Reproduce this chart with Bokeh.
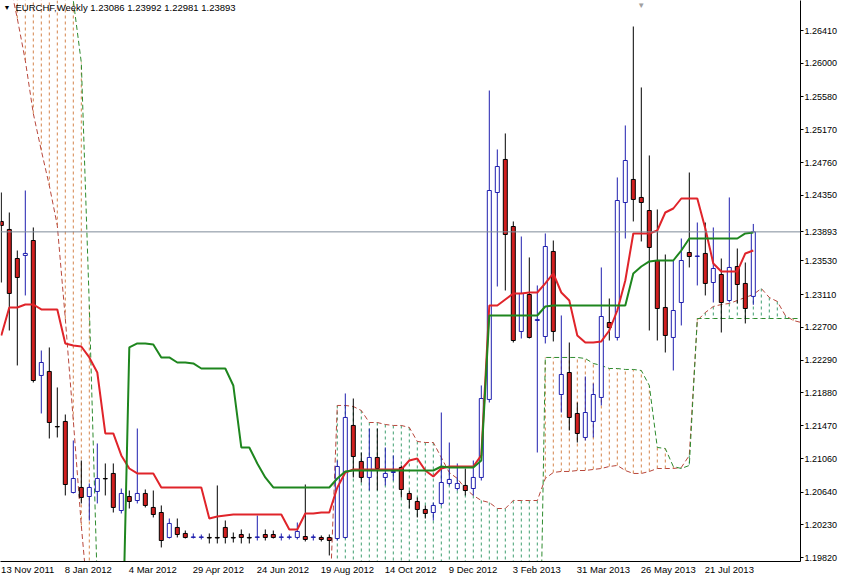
import math
from bokeh.plotting import figure
from bokeh.models import (Range1d, FixedTicker, PrintfTickFormatter, LinearAxis,
                          Label, Span, ColumnDataSource)
from bokeh.embed import file_html
from bokeh.resources import INLINE

nan = float("nan")

# ---------------- data (EURCHF weekly) ----------------
date_tick_bars = [0, 8, 16, 24, 32, 40, 48, 56, 64, 72, 80, 88]
date_tick_labels = ["13 Nov 2011", "8 Jan 2012", "4 Mar 2012", "29 Apr 2012",
                    "24 Jun 2012", "19 Aug 2012", "14 Oct 2012", "9 Dec 2012",
                    "3 Feb 2013", "31 Mar 2013", "26 May 2013", "21 Jul 2013"]
price_ticks = [1.19820, 1.20230, 1.20640, 1.21060, 1.21470, 1.21880, 1.22290,
               1.22700, 1.23110, 1.23530, 1.24350, 1.24760, 1.25170,
               1.25580, 1.26000, 1.26410]
last_price = 1.23893
header = "EURCHF,Weekly  1.23086 1.23992 1.22981 1.23893"

opens = [1.24023, 1.23923, 1.23560, 1.23598, 1.23785, 1.22098, 1.22148, 1.21460, 1.21523, 1.20635,
         1.20698, 1.20585, 1.20648, 1.20810, 1.20873, 1.20410, 1.20585, 1.20535, 1.20623, 1.20448,
         1.20385, 1.20073, 1.20198, 1.20123, 1.20073, 1.20073, 1.20073, 1.20073, 1.20198, 1.20073,
         1.20110, 1.20073, 1.20073, 1.20110, 1.20110, 1.20073, 1.20073, 1.20073, 1.20085, 1.20073,
         1.20073, 1.20073, 1.20060, 1.20073, 1.21473, 1.21023, 1.20823, 1.21073, 1.20823, 1.20885,
         1.20948, 1.20623, 1.20523, 1.20423, 1.20385, 1.20498, 1.20748, 1.20685, 1.20723, 1.20685,
         1.20823, 1.21798, 1.24385, 1.24798, 1.23960, 1.22648, 1.23110, 1.22785, 1.22585, 1.23648,
         1.21860, 1.22135, 1.21623, 1.21323, 1.21523, 1.21823, 1.22760, 1.22573, 1.24260, 1.24548,
         1.24323, 1.24160, 1.23535, 1.22948, 1.22573, 1.23010, 1.23635, 1.23585, 1.23623, 1.23260,
         1.23360, 1.23035, 1.23460, 1.23248, 1.23086]
highs = [1.24385, 1.24135, 1.23660, 1.24410, 1.23948, 1.22410, 1.22448, 1.21948, 1.21610, 1.21285,
         1.21035, 1.20748, 1.21248, 1.20998, 1.20998, 1.20685, 1.20660, 1.21435, 1.20673, 1.20660,
         1.20473, 1.20310, 1.20310, 1.20160, 1.20123, 1.20110, 1.20123, 1.20723, 1.20285, 1.20135,
         1.20173, 1.20123, 1.20348, 1.20173, 1.20160, 1.20123, 1.20110, 1.20260, 1.20735, 1.20110,
         1.20098, 1.20110, 1.21035, 1.21873, 1.21810, 1.21135, 1.21435, 1.21435, 1.21198, 1.21098,
         1.20973, 1.20660, 1.20573, 1.20473, 1.20510, 1.21635, 1.21260, 1.20998, 1.20935, 1.21035,
         1.21973, 1.25660, 1.24923, 1.25123, 1.24023, 1.23835, 1.23573, 1.23223, 1.23873, 1.23785,
         1.22848, 1.22510, 1.21760, 1.22085, 1.21998, 1.23448, 1.23060, 1.24573, 1.25223, 1.26460,
         1.25698, 1.24848, 1.24173, 1.23610, 1.23535, 1.23810, 1.24635, 1.24010, 1.24010, 1.23948,
         1.23560, 1.24323, 1.23685, 1.23510, 1.23992]
lows = [1.23260, 1.22660, 1.22223, 1.23098, 1.22010, 1.21623, 1.21310, 1.21323, 1.20598, 1.20623,
        1.20498, 1.20285, 1.20498, 1.20598, 1.20385, 1.20373, 1.20435, 1.20498, 1.20448, 1.20323,
        1.19948, 1.20060, 1.20073, 1.20060, 1.20060, 1.20048, 1.19998, 1.19998, 1.19998, 1.20010,
        1.19998, 1.19998, 1.20035, 1.20035, 1.20060, 1.20035, 1.20048, 1.20048, 1.20023, 1.20035,
        1.20023, 1.19848, 1.20035, 1.20060, 1.20823, 1.20760, 1.20660, 1.20660, 1.20723, 1.20785,
        1.20573, 1.20435, 1.20323, 1.20310, 1.20285, 1.20473, 1.20723, 1.20660, 1.20598, 1.20598,
        1.20785, 1.21760, 1.23210, 1.23160, 1.22510, 1.22560, 1.22560, 1.21135, 1.22498, 1.22523,
        1.21635, 1.21410, 1.21260, 1.21285, 1.21323, 1.21723, 1.22535, 1.22535, 1.23810, 1.24023,
        1.23773, 1.22660, 1.22535, 1.22385, 1.22160, 1.22723, 1.23448, 1.23223, 1.23098, 1.23010,
        1.22635, 1.23010, 1.22998, 1.22748, 1.22981]
closes = [1.23973, 1.23123, 1.23323, 1.23623, 1.22035, 1.22260, 1.21510, 1.21455, 1.20735, 1.20810,
          1.20573, 1.20698, 1.20810, 1.20805, 1.20448, 1.20623, 1.20523, 1.20623, 1.20473, 1.20360,
          1.20035, 1.20248, 1.20110, 1.20073, 1.20080, 1.20080, 1.20066, 1.20066, 1.20073, 1.20066,
          1.20073, 1.20066, 1.20080, 1.20073, 1.20073, 1.20080, 1.20080, 1.20148, 1.20048, 1.20080,
          1.20048, 1.20035, 1.20960, 1.21573, 1.21085, 1.20823, 1.21073, 1.20935, 1.20873, 1.20898,
          1.20673, 1.20548, 1.20423, 1.20373, 1.20473, 1.20760, 1.20798, 1.20748, 1.20660, 1.20823,
          1.21810, 1.24410, 1.24710, 1.23860, 1.22535, 1.23123, 1.22573, 1.22798, 1.23710, 1.22648,
          1.22110, 1.21573, 1.21373, 1.21635, 1.21860, 1.22835, 1.22698, 1.24285, 1.24785, 1.24298,
          1.24260, 1.23698, 1.22935, 1.22598, 1.22910, 1.23535, 1.23585, 1.23592, 1.23248, 1.23435,
          1.23010, 1.23448, 1.23235, 1.22935, 1.23893]

tenkan = [1.22598, 1.22948, 1.22948, 1.22985, 1.22985, 1.22923, 1.22923, 1.22923, 1.22498, 1.22473,
          1.22460, 1.22323, 1.22135, 1.21373, 1.21373, 1.21098, 1.20935, 1.20873, 1.20873, 1.20873,
          1.20698, 1.20698, 1.20698, 1.20698, 1.20698, 1.20698, 1.20310, 1.20335, 1.20348, 1.20360,
          1.20360, 1.20360, 1.20360, 1.20360, 1.20360, 1.20360, 1.20173, 1.20173, 1.20373, 1.20373,
          1.20385, 1.20385, 1.20698, 1.20885, 1.20923, 1.20923, 1.20923, 1.20923, 1.20923, 1.20923,
          1.20923, 1.21035, 1.21060, 1.20910, 1.20835, 1.20935, 1.20960, 1.20960, 1.20960, 1.20960,
          1.21098, 1.22973, 1.22973, 1.23048, 1.23123, 1.23123, 1.23135, 1.23135, 1.23248, 1.23373,
          1.23135, 1.23035, 1.22598, 1.22510, 1.22510, 1.22523, 1.22660, 1.22910, 1.23285, 1.23873,
          1.23873, 1.23873, 1.23910, 1.24135, 1.24185, 1.24310, 1.24310, 1.24310, 1.23935, 1.23498,
          1.23398, 1.23398, 1.23398, 1.23623, 1.23660]
kijun = [nan, nan, nan, nan, nan, nan, nan, nan, nan, nan,
         nan, nan, nan, nan, nan, 1.18035, 1.22448, 1.22498, 1.22498, 1.22485,
         1.22323, 1.22323, 1.22260, 1.22260, 1.22248, 1.22185, 1.22185, 1.22185, 1.22185, 1.21973,
         1.21198, 1.21198, 1.20998, 1.20823, 1.20698, 1.20698, 1.20698, 1.20698, 1.20698, 1.20698,
         1.20698, 1.20698, 1.20810, 1.20898, 1.20910, 1.20910, 1.20910, 1.20910, 1.20910, 1.20910,
         1.20910, 1.20910, 1.20910, 1.20910, 1.20910, 1.20960, 1.20948, 1.20948, 1.20948, 1.20948,
         1.21035, 1.22848, 1.22848, 1.22848, 1.22848, 1.22848, 1.22848, 1.22848, 1.22960, 1.22973,
         1.22973, 1.22973, 1.22973, 1.22973, 1.22973, 1.22973, 1.22973, 1.22973, 1.22973, 1.23373,
         1.23460, 1.23523, 1.23535, 1.23535, 1.23535, 1.23660, 1.23810, 1.23810, 1.23810, 1.23810,
         1.23810, 1.23810, 1.23810, 1.23873, 1.23885]

# Senkou spans, already shifted 26 weeks ahead (one value per bar slot)
span_a = [1.27535, 1.27035, 1.26560, 1.26035, 1.25373, 1.24910, 1.24473, 1.23973, 1.22810, 1.21535,
          1.20223, 1.19110, nan, nan, nan, nan, nan, nan, nan, nan,
          nan, nan, nan, nan, nan, nan, nan, nan, nan, nan,
          nan, nan, nan, nan, nan, nan, nan, nan, nan, nan,
          nan, 1.19110, 1.21723, 1.21723, 1.21710, 1.21660, 1.21510, 1.21510, 1.21485, 1.21473,
          1.21473, 1.21448, 1.21273, 1.21260, 1.21260, 1.21073, 1.20885, 1.20810, 1.20685, 1.20598,
          1.20535, 1.20510, 1.20435, 1.20435, 1.20535, 1.20535, 1.20535, 1.20535, 1.20810, 1.20885,
          1.20898, 1.20898, 1.20910, 1.20910, 1.20923, 1.20935, 1.20960, 1.20973, 1.20910, 1.20873,
          1.20873, 1.20898, 1.20935, 1.20935, 1.20935, 1.20948, 1.21098, 1.22785, 1.22885, 1.22960,
          1.22985, 1.22998, 1.23035, 1.23073, 1.23110, 1.23185, 1.23073, 1.23023, 1.22848, 1.22785,
          1.22760, 1.22760]
span_b = [1.28660, 1.28660, 1.28660, 1.28660, 1.28660, 1.28660, 1.28660, 1.28660, 1.28285, 1.26785,
          1.26010, 1.22973, 1.19473, nan, nan, nan, nan, nan, nan, nan,
          nan, nan, nan, nan, nan, nan, nan, nan, nan, nan,
          nan, nan, nan, nan, nan, nan, nan, nan, nan, nan,
          nan, nan, 1.16535, 1.16535, 1.16535, 1.16535, 1.16535, 1.16535, 1.16535, 1.16535,
          1.16535, 1.16535, 1.16535, 1.16535, 1.16535, 1.16535, 1.16535, 1.16535, 1.16535, 1.16535,
          1.16535, 1.16535, 1.16535, 1.16535, 1.16535, 1.16535, 1.16535, 1.16535, 1.22323, 1.22323,
          1.22323, 1.22323, 1.22323, 1.22310, 1.22248, 1.22223, 1.22185, 1.22185, 1.22173, 1.22173,
          1.22160, 1.21973, 1.21198, 1.21185, 1.20960, 1.20935, 1.20973, 1.22810, 1.22810, 1.22810,
          1.22810, 1.22810, 1.22810, 1.22810, 1.22810, 1.22810, 1.22810, 1.22810, 1.22810, 1.22810,
          1.22810, 1.22810]

# ---------------- styling ----------------
FONT = "Liberation Sans"
FSIZE = 9.5
YFSIZE = 9
BULL = "#1f1fae"
BEAR_FILL = "#d11f1f"
TENKAN_C = "#e0242a"
KIJUN_C = "#1e861e"
SPAN_A_C = "#b8473c"
SPAN_B_C = "#2e8b2e"
HATCH_UP = "#3f9e70"
HATCH_DN = "#d4844c"

FRAME_W, FRAME_H = 800, 561
PX_PER_BAR = 8.0
PX_PER_UNIT = 8000.0
x_lo = -0.1
x_hi = x_lo + FRAME_W / PX_PER_BAR
y_hi = 1.26785
y_lo = y_hi - FRAME_H / PX_PER_UNIT

p = figure(frame_width=FRAME_W, frame_height=FRAME_H, output_backend="svg", toolbar_location=None,
           x_range=Range1d(x_lo, x_hi), y_range=Range1d(y_lo, y_hi),
           x_axis_location=None, y_axis_location=None,
           min_border_left=0, min_border_top=0, min_border_right=0, min_border_bottom=0)
p.outline_line_color = None
p.background_fill_color = "white"
p.border_fill_color = "white"
for g in p.grid:
    g.visible = False

# right price axis (last price given as a tick so its value shows on the scale)
yticks = sorted(price_ticks + [last_price])
yaxis = LinearAxis(ticker=FixedTicker(ticks=yticks),
                   formatter=PrintfTickFormatter(format="%.5f"),
                   axis_line_color="black", major_tick_out=3, major_tick_in=0,
                   minor_tick_line_color=None, major_label_standoff=1,
                   major_label_text_font=FONT, major_label_text_font_size="%gpx" % YFSIZE,
                   major_label_text_color="black")
p.add_layout(yaxis, "right")

# bottom date axis: MT4 writes each date to the right of its bar -> shift by half text width
CW = {" ": 0.278, "N": 0.722, "o": 0.556, "v": 0.5, "J": 0.5, "a": 0.556, "n": 0.556,
      "M": 0.833, "r": 0.333, "A": 0.667, "p": 0.556, "u": 0.556, "g": 0.556, "O": 0.778,
      "c": 0.5, "t": 0.278, "D": 0.722, "e": 0.556, "F": 0.611, "b": 0.556, "y": 0.5, "l": 0.222}
label_pos = []
for b, t in zip(date_tick_bars, date_tick_labels):
    w = sum(CW.get(ch, 0.556) for ch in t) * FSIZE
    label_pos.append(round(b + (w / 2.0 - 0.5) / PX_PER_BAR, 2))
xaxis = LinearAxis(ticker=FixedTicker(ticks=label_pos),
                   major_label_overrides={pos: t for pos, t in zip(label_pos, date_tick_labels)},
                   axis_line_color="black", major_tick_line_color=None,
                   major_tick_out=0, major_tick_in=0,
                   minor_tick_line_color=None, major_label_standoff=2,
                   major_label_text_font=FONT, major_label_text_font_size="%gpx" % FSIZE,
                   major_label_text_color="black")
p.add_layout(xaxis, "below")

# ---- cloud hatching ----
sx = list(range(len(span_a)))
hu_x, hu_y0, hu_y1, hd_x, hd_y0, hd_y1 = [], [], [], [], [], []
for j, a, b in zip(sx, span_a, span_b):
    if math.isnan(a) or math.isnan(b):
        continue
    if a >= b:
        hu_x.append(j); hu_y0.append(a); hu_y1.append(b)
    else:
        hd_x.append(j); hd_y0.append(a); hd_y1.append(b)
p.segment(x0=hu_x, y0=hu_y0, x1=hu_x, y1=hu_y1, line_color=HATCH_UP, line_width=1, line_dash="3 3")
p.segment(x0=hd_x, y0=hd_y0, x1=hd_x, y1=hd_y1, line_color=HATCH_DN, line_width=1, line_dash="3 3")

p.line(sx, span_a, line_color=SPAN_A_C, line_width=1, line_dash="5 3")
p.line(sx, span_b, line_color=SPAN_B_C, line_width=1, line_dash="5 3")

# ---- candles ----
idx = list(range(len(opens)))
bull = [c >= o for o, c in zip(opens, closes)]
src = ColumnDataSource(dict(
    x=idx, high=highs, low=lows,
    top=[max(o, c) for o, c in zip(opens, closes)],
    bottom=[min(o, c) for o, c in zip(opens, closes)],
    wick=[BULL if b else "black" for b in bull],
    fill=["white" if b else BEAR_FILL for b in bull],
    edge=[BULL if b else "black" for b in bull],
))
p.segment(x0="x", y0="high", x1="x", y1="low", line_color="wick", line_width=1, source=src)
p.vbar(x="x", width=0.5, top="top", bottom="bottom", fill_color="fill",
       line_color="edge", line_width=1, source=src)

# ---- Tenkan / Kijun ----
p.line(idx, tenkan, line_color=TENKAN_C, line_width=2)
p.line(idx, kijun, line_color=KIJUN_C, line_width=2)

# ---- current price line ----
p.add_layout(Span(location=last_price, dimension="width", line_color="#7f8c99", line_width=1))

# ---- header ----
p.add_layout(Label(x=x_lo, y=y_hi, x_offset=3, y_offset=-3, text="\u25bc",
                   text_align="left", text_baseline="top",
                   text_font_size="7px", text_color="black"))
p.add_layout(Label(x=x_lo, y=y_hi, x_offset=15, y_offset=-1, text=header,
                   text_align="left", text_baseline="top",
                   text_font=FONT, text_font_size="%gpx" % FSIZE, text_color="black"))
p.add_layout(Label(x=80, y=y_hi, y_offset=0, text="\u25bc",
                   text_align="center", text_baseline="top",
                   text_font_size="8px", text_color="#a0a0a0"))

open("out.html", "w").write(file_html(p, INLINE))
